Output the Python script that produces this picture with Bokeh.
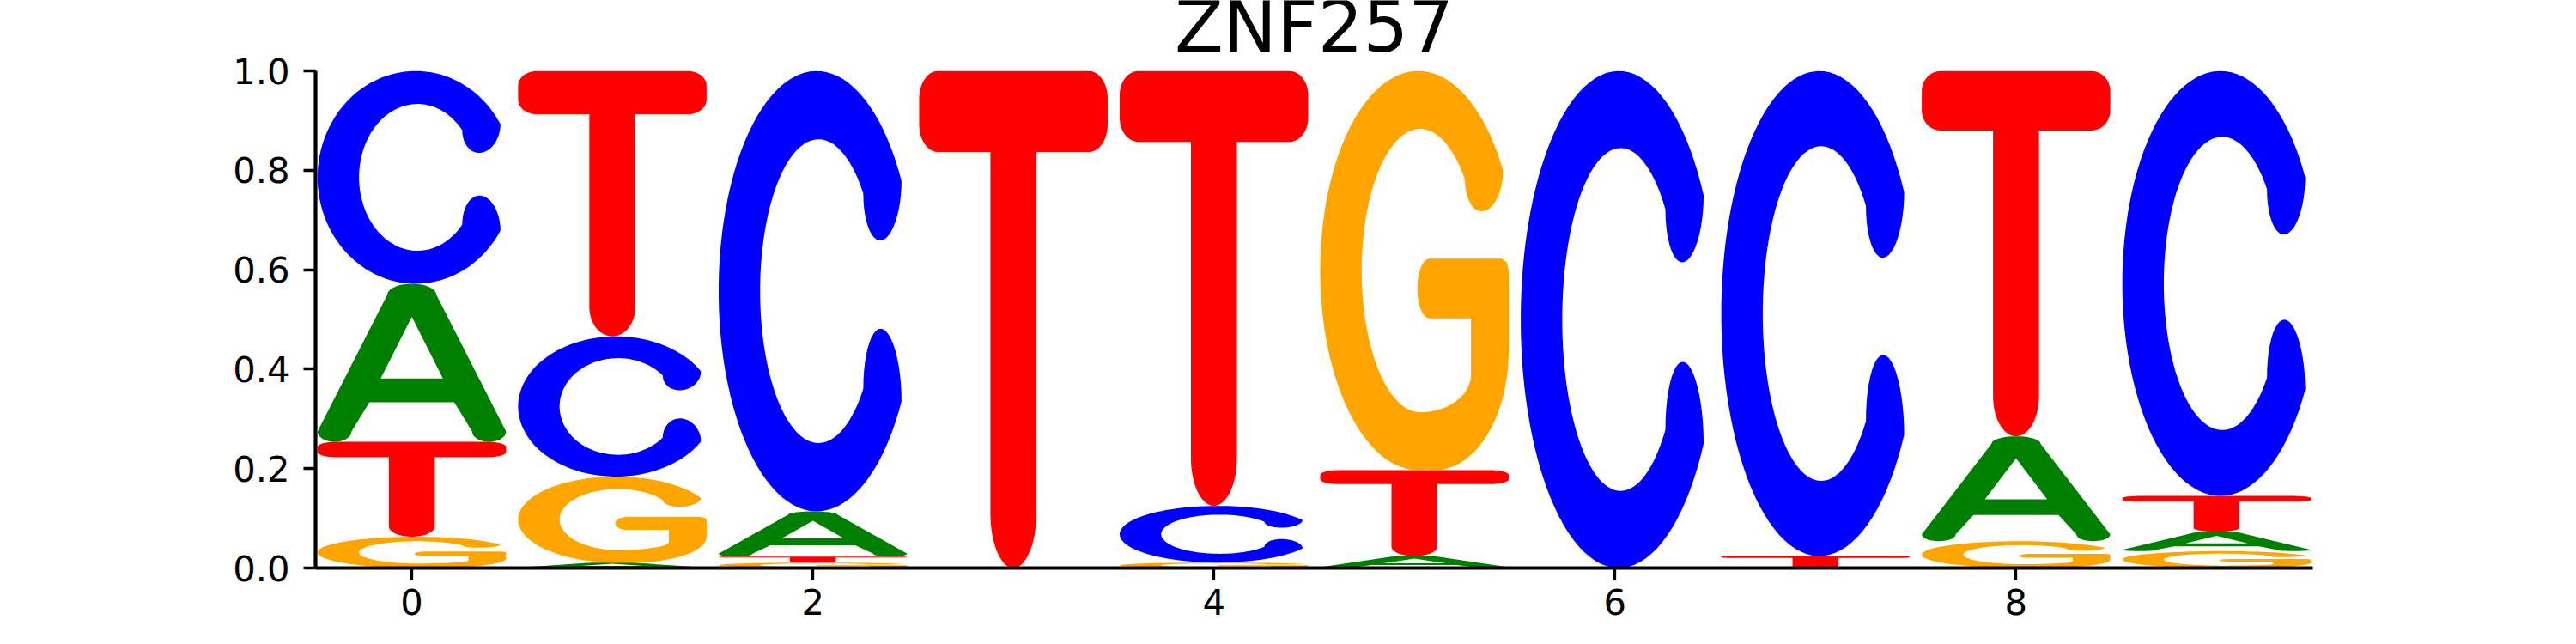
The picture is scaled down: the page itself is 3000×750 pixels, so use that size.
import numpy as np
from bokeh.plotting import figure
from bokeh.models import ColumnDataSource, Range1d, FixedTicker, NumeralTickFormatter
from bokeh.core.properties import value
from bokeh.embed import file_html
from bokeh.resources import INLINE

# motif data (probability of each base per position)
title = "ZNF257"
positions = [0, 1, 2, 3, 4, 5, 6, 7, 8, 9]
prob_A = [0.318, 0.011, 0.091, 0.0, 0.0, 0.024, 0.0, 0.0, 0.211, 0.039]
prob_C = [0.428, 0.282, 0.886, 0.0, 0.114, 0.0, 1.0, 0.976, 0.0, 0.855]
prob_G = [0.063, 0.173, 0.011, 0.0, 0.011, 0.803, 0.0, 0.0, 0.054, 0.034]
prob_T = [0.191, 0.534, 0.012, 1.0, 0.875, 0.173, 0.0, 0.024, 0.735, 0.072]
x_ticks = [0, 2, 4, 6, 8]
y_ticks = [0.0, 0.2, 0.4, 0.6, 0.8, 1.0]

colors = {"A": "#008000", "C": "#0000ff", "G": "#ffa500", "T": "#ff0000"}
letter_width = 0.94


# ---- letter outlines in a unit box ----
def arc(cx, cy, rx, ry, a0, a1, n=40):
    t = np.radians(np.linspace(a0, a1, n))
    return list(zip(cx + rx * np.cos(t), cy + ry * np.sin(t)))


def pt(e, a):
    cx, cy, rx, ry = e
    return (cx + rx * np.cos(np.radians(a)), cy + ry * np.sin(np.radians(a)))


def cap(p, q, bx, by, n=24):
    # rounded terminal going from p to q, bulging along (bx, by)
    mx, my = (p[0] + q[0]) / 2, (p[1] + q[1]) / 2
    t = np.linspace(0, np.pi, n)
    return list(zip(mx + (p[0] - mx) * np.cos(t) + bx * np.sin(t),
                    my + (p[1] - my) * np.cos(t) + by * np.sin(t)))


OUT = (0.52, 0.5, 0.52, 0.5)
INN = (0.53, 0.5, 0.31, 0.345)

c_pts = arc(*OUT, 30, 330, 90)
c_pts += cap(pt(OUT, 330), pt(INN, 320), 0, 0.15)[1:-1]
c_pts += arc(*INN, 320, 40, 80)
c_pts += cap(pt(INN, 40), pt(OUT, 30), 0, -0.12)[1:-1]

INN_G = (0.53, 0.5, 0.31, 0.355)
g_pts = arc(*OUT, 30, 275, 80)
g_pts += arc(0.61, 0.30, 0.39, 0.30, 268, 360, 24)
g_pts += [(1.0, 0.50), (0.99, 0.52), (0.965, 0.53), (0.58, 0.53)]
g_pts += arc(0.58, 0.455, 0.065, 0.075, 90, 270, 16)
g_pts += [(0.80, 0.38)]
g_pts += arc(0.53, 0.24, 0.27, 0.095, 0, -90, 20)
g_pts += arc(*INN_G, 270, 40, 70)[1:]
g_pts += cap(pt(INN_G, 40), pt(OUT, 30), 0, -0.09)[1:-1]

t_pts = arc(0.5, 0.11, 0.122, 0.11, 180, 360, 30)
t_pts += [(0.622, 0.837)]
t_pts += arc(0.90, 0.892, 0.10, 0.055, 270, 360, 12)
t_pts += arc(0.90, 0.945, 0.10, 0.055, 0, 90, 12)
t_pts += arc(0.10, 0.945, 0.10, 0.055, 90, 180, 12)
t_pts += arc(0.10, 0.892, 0.10, 0.055, 180, 270, 12)
t_pts += [(0.378, 0.837)]

a_pts = arc(0.09, 0.065, 0.09, 0.065, 0, -180, 16)
a_pts += arc(0.5, 0.93, 0.13, 0.07, 180, 0, 24)
a_pts += arc(0.91, 0.065, 0.09, 0.065, 0, -180, 16)
a_pts += [(0.725, 0.25), (0.275, 0.25)]
a_hole = [(0.335, 0.40), (0.665, 0.40), (0.5, 0.79)]

shapes = {"A": [a_pts, a_hole], "C": [c_pts], "G": [g_pts], "T": [t_pts]}

# ---- stack letters, smallest at the bottom ----
probs = {"A": prob_A, "C": prob_C, "G": prob_G, "T": prob_T}
xs, ys, cols = [], [], []
for i, pos in enumerate(positions):
    floor = 0.0
    for let in sorted(probs, key=lambda k: probs[k][i]):
        h = probs[let][i]
        if h <= 0:
            continue
        rings_x, rings_y = [], []
        for ring in shapes[let]:
            rings_x.append([pos - letter_width / 2 + u * letter_width for u, v in ring])
            rings_y.append([floor + v * h for u, v in ring])
        xs.append([rings_x])
        ys.append([rings_y])
        cols.append(colors[let])
        floor += h

src = ColumnDataSource(dict(xs=xs, ys=ys, color=cols))

x_lo, x_hi = -0.48, 9.48
y_top = 1.142      # room above 1.0 for the title
title_y = 1.088

p = figure(width=2984, height=734, x_range=Range1d(x_lo, x_hi), y_range=Range1d(0, y_top),
           output_backend="svg", toolbar_location=None,
           min_border_left=367, min_border_right=291, min_border_top=0, min_border_bottom=73)
p.grid.visible = False
p.outline_line_color = None

p.multi_polygons(xs="xs", ys="ys", fill_color="color", line_color=None, source=src)

p.text(x=[(x_lo + x_hi) / 2], y=[title_y], text=[title], text_align="center", text_baseline="middle",
       text_font=value("DejaVu Sans"), text_font_size="83px", text_color="black")

for ax in (p.xaxis, p.yaxis):
    ax.axis_line_width = 4.2
    ax.major_tick_line_width = 3.3
    ax.major_tick_in = 0
    ax.major_tick_out = 14
    ax.minor_tick_line_color = None
    ax.major_label_text_font = "DejaVu Sans"
    ax.major_label_text_font_size = "41.7px"
    ax.major_label_text_color = "black"

p.xaxis.ticker = FixedTicker(ticks=x_ticks)
p.yaxis.ticker = FixedTicker(ticks=y_ticks)
p.yaxis.bounds = (0, 1)
p.yaxis.formatter = NumeralTickFormatter(format="0.0")
p.xaxis.major_label_standoff = 10
p.yaxis.major_label_standoff = 16

open("out.html", "w").write(file_html(p, INLINE))
